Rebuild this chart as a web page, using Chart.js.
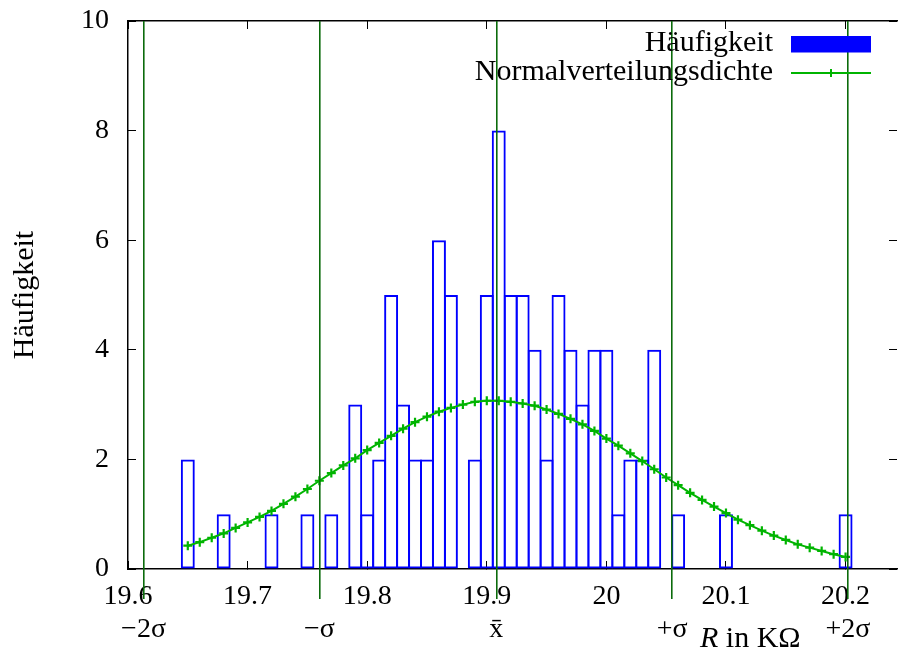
<!DOCTYPE html>
<html>
<head>
<meta charset="utf-8">
<title>Häufigkeit</title>
<script src="https://cdn.jsdelivr.net/npm/chart.js@4/dist/chart.umd.min.js"></script>
<style>
  html, body { margin: 0; padding: 0; background: #fff; }
  canvas { display: block; }
</style>
</head>
<body>
<canvas id="histChart" width="904" height="659"></canvas>
<script>
// Klassenmitten (K Ohm) der belegten Klassen, Klassenbreite 0.01
const binCenters = [19.65, 19.68, 19.72, 19.75, 19.77, 19.79, 19.80, 19.81, 19.82, 19.83, 19.84,
                    19.85, 19.86, 19.87, 19.89, 19.90, 19.91, 19.92, 19.93, 19.94, 19.95, 19.96,
                    19.97, 19.98, 19.99, 20.00, 20.01, 20.02, 20.03, 20.04, 20.06, 20.10, 20.20];
const counts = [2, 1, 1, 1, 1, 3, 1, 2, 5, 3, 2,
                2, 6, 5, 2, 5, 8, 5, 5, 4, 2, 5,
                4, 3, 4, 4, 1, 2, 2, 4, 1, 1, 1];

// Normalverteilungsdichte an den Klassenmitten 19.65 ... 20.20
const densityStart = 19.65;
const densityStep = 0.01;
const densityY = [0.425, 0.49, 0.57, 0.65, 0.75, 0.85, 0.95, 1.06, 1.19, 1.32, 1.46, 1.61, 1.75, 1.89,
                  2.02, 2.17, 2.30, 2.43, 2.56, 2.68, 2.78, 2.87, 2.94, 3.00, 3.05, 3.07, 3.07, 3.05,
                  3.02, 2.98, 2.91, 2.83, 2.74, 2.64, 2.52, 2.38, 2.25, 2.11, 1.97, 1.82, 1.67, 1.53,
                  1.39, 1.26, 1.14, 1.02, 0.90, 0.80, 0.70, 0.61, 0.53, 0.45, 0.39, 0.33, 0.27, 0.22];
const densityX = densityY.map((_, i) => +(densityStart + i * densityStep).toFixed(2));

// Mittelwert und Sigma-Grenzen
const sigmaPositions = [19.613, 19.760, 19.908, 20.055, 20.202];
const sigmaLabels = ['\u22122\u03c3', '\u2212\u03c3', 'x\u0304', '+\u03c3', '+2\u03c3'];

// Achsen
const xMin = 19.6, xMax = 20.243;
const xTicks = [19.6, 19.7, 19.8, 19.9, 20.0, 20.1, 20.2];
const xTickLabels = ['19.6', '19.7', '19.8', '19.9', '20', '20.1', '20.2'];
const yTicks = [0, 2, 4, 6, 8, 10];

const serif = '"Liberation Serif", "Times New Roman", serif';
const barBlue = '#0000ff';
const curveGreen = '#00b400';
const lineGreen = '#0b6b0b';

// feste Achsgroessen, keine zusaetzlichen Raender fuer ueberstehende Beschriftungen
function fixSize(w, h) {
    return axis => {
        if (w !== null) axis.width = w;
        if (h !== null) axis.height = h;
        axis.paddingLeft = axis.paddingRight = axis.paddingTop = axis.paddingBottom = 0;
    };
}

// Legende oben rechts innerhalb des Plotbereichs (Text rechtsbuendig, Symbol rechts)
const legendInside = {
    id: 'legendInside',
    afterDraw(chart) {
        const { ctx, chartArea } = chart;
        const textRight = chartArea.right - 124;
        const sampleLeft = chartArea.right - 106;
        const sampleRight = chartArea.right - 26;
        const rows = [chartArea.top + 30, chartArea.top + 59];
        ctx.save();
        ctx.font = '30px ' + serif;
        ctx.textAlign = 'right';
        ctx.textBaseline = 'alphabetic';
        chart.data.datasets.forEach((ds, i) => {
            const base = rows[i];
            ctx.fillStyle = '#000';
            ctx.fillText(ds.label, textRight, base);
            if (ds.type === 'bar') {
                ctx.fillStyle = ds.borderColor;
                ctx.fillRect(sampleLeft, base - 15, sampleRight - sampleLeft, 16.5);
            } else {
                const y = base - 7;
                const mid = (sampleLeft + sampleRight) / 2;
                ctx.strokeStyle = ds.borderColor;
                ctx.lineWidth = 2;
                ctx.beginPath();
                ctx.moveTo(sampleLeft, y);
                ctx.lineTo(sampleRight, y);
                ctx.moveTo(mid, y - 4);
                ctx.lineTo(mid, y + 4);
                ctx.stroke();
            }
        });
        ctx.restore();
    }
};

// x-Achsenbeschriftung, nach rechts versetzt wie im Original
const xAxisLabel = {
    id: 'xAxisLabel',
    afterDraw(chart) {
        const { ctx, chartArea } = chart;
        let x = chartArea.right - 197;
        const y = chartArea.bottom + 78;
        ctx.save();
        ctx.fillStyle = '#000';
        ctx.textBaseline = 'alphabetic';
        ctx.textAlign = 'left';
        ctx.font = 'italic 30px ' + serif;
        ctx.fillText('R', x, y);
        x += ctx.measureText('R').width;
        ctx.font = '30px ' + serif;
        ctx.fillText(' in K\u03a9', x, y);
        ctx.restore();
    }
};

const ctx = document.getElementById('histChart').getContext('2d');

new Chart(ctx, {
    type: 'bar',
    data: {
        datasets: [
            {
                type: 'bar',
                label: 'Häufigkeit',
                data: binCenters.map((x, i) => ({ x: x, y: counts[i] })),
                borderColor: barBlue,
                backgroundColor: 'rgba(0,0,0,0)',
                borderWidth: 2,
                borderSkipped: false,
                categoryPercentage: 1,
                barPercentage: 1.167,   // Nachbarkanten fallen zusammen
                xAxisID: 'x',
                yAxisID: 'y',
                order: 1
            },
            {
                type: 'line',
                label: 'Normalverteilungsdichte',
                data: densityX.map((x, i) => ({ x: x, y: densityY[i] })),
                borderColor: curveGreen,
                borderWidth: 2,
                pointStyle: 'cross',
                pointRadius: 4.5,
                pointBorderWidth: 2.2,
                pointBorderColor: curveGreen,
                pointBackgroundColor: curveGreen,
                fill: false,
                tension: 0,
                xAxisID: 'x',
                yAxisID: 'y',
                order: 0
            }
        ]
    },
    options: {
        responsive: false,
        animation: false,
        layout: { padding: { top: 21, right: 7, left: 0, bottom: 0 } },
        plugins: {
            legend: { display: false },
            tooltip: { enabled: false }
        },
        scales: {
            x: {
                type: 'linear',
                position: 'bottom',
                weight: 0,
                min: xMin,
                max: xMax,
                offset: false,
                afterBuildTicks: axis => { axis.ticks = xTicks.map(v => ({ value: v })); },
                afterFit: fixSize(null, 30),
                ticks: {
                    callback: (v, i) => xTickLabels[i],
                    autoSkip: false,
                    maxRotation: 0,
                    mirror: true,          // keine Beschneidung auf die Achsenbox
                    color: '#000',
                    padding: -44,
                    font: { family: serif, size: 28 }
                },
                grid: { drawOnChartArea: false, drawTicks: true, tickLength: -8, color: '#000', lineWidth: 1, offset: false },
                border: { display: true, color: '#000', width: 1.5 }
            },
            xs: {
                type: 'linear',
                position: 'bottom',
                weight: 1,
                min: xMin,
                max: xMax,
                offset: false,
                afterBuildTicks: axis => { axis.ticks = sigmaPositions.map(v => ({ value: v })); },
                afterFit: fixSize(null, 60),
                ticks: {
                    callback: (v, i) => sigmaLabels[i],
                    autoSkip: false,
                    maxRotation: 0,
                    mirror: true,
                    color: '#000',
                    padding: -47,
                    font: { family: serif, size: 28 }
                },
                grid: { drawOnChartArea: true, drawTicks: true, tickLength: -30, color: lineGreen, lineWidth: 1.6, offset: false, z: 1 },
                border: { display: false }
            },
            x2: {
                type: 'linear',
                position: 'top',
                min: xMin,
                max: xMax,
                offset: false,
                afterBuildTicks: axis => { axis.ticks = xTicks.map(v => ({ value: v })); },
                afterFit: fixSize(null, 0),
                ticks: { display: false },
                grid: { drawOnChartArea: false, drawTicks: true, tickLength: -8, color: '#000', lineWidth: 1, offset: false },
                border: { display: true, color: '#000', width: 1.5 }
            },
            y: {
                type: 'linear',
                position: 'left',
                min: 0,
                max: 10,
                afterBuildTicks: axis => { axis.ticks = yTicks.map(v => ({ value: v })); },
                afterFit: fixSize(128, null),
                ticks: {
                    color: '#000',
                    padding: 27,
                    font: { family: serif, size: 28 }
                },
                grid: { drawOnChartArea: false, drawTicks: true, tickLength: -8, color: '#000', lineWidth: 1 },
                border: { display: true, color: '#000', width: 1.5 },
                title: {
                    display: true,
                    text: 'Häufigkeit',
                    color: '#000',
                    padding: { top: 7, bottom: 0 },
                    font: { family: serif, size: 30 }
                }
            },
            y2: {
                type: 'linear',
                position: 'right',
                min: 0,
                max: 10,
                afterBuildTicks: axis => { axis.ticks = yTicks.map(v => ({ value: v })); },
                afterFit: fixSize(0, null),
                ticks: { display: false },
                grid: { drawOnChartArea: false, drawTicks: true, tickLength: -8, color: '#000', lineWidth: 1 },
                border: { display: false }
            }
        }
    },
    plugins: [legendInside, xAxisLabel]
});
</script>
</body>
</html>
